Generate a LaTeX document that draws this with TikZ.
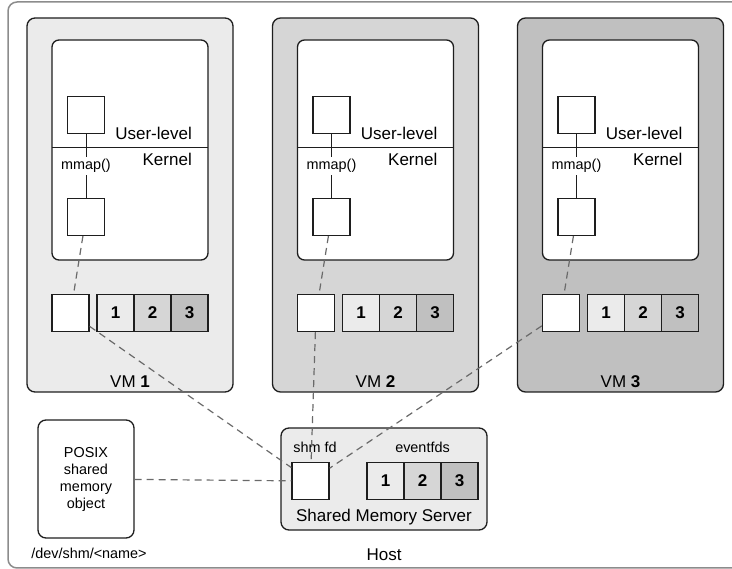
\documentclass[tikz,border=0pt]{standalone}
\usepackage{fontspec}
\setmainfont{Liberation Sans}
\usetikzlibrary{positioning}

\definecolor{hellgrau}{HTML}{EBEBEB}
\definecolor{mittelgrau}{HTML}{D6D6D6}
\definecolor{dunkelgrau}{HTML}{C0C0C0}
\definecolor{rahmen}{HTML}{1E1E1E}
\definecolor{hostrand}{HTML}{8C8C8C}
\definecolor{strich}{HTML}{6A6A6A}

\newcommand{\gross}{\fontsize{17}{20}\selectfont}
\newcommand{\klein}{\fontsize{14.4}{17}\selectfont}

\tikzset{
  vmbox/.style={draw=rahmen, line width=1.3pt, rounded corners=8pt, minimum width=206pt, minimum height=374pt},
  innerbox/.style={draw=rahmen, fill=white, line width=1.3pt, rounded corners=7pt, minimum width=156pt, minimum height=220pt},
  kasten/.style={draw=rahmen, fill=white, line width=1.3pt, minimum size=37pt, inner sep=0pt},
  zelle/.style={draw=rahmen, line width=1.3pt, minimum size=37pt, inner sep=0pt, font=\gross\bfseries},
  linie/.style={draw=rahmen, line width=1pt},
  gestrichelt/.style={draw=strich, line width=1.2pt, dash pattern=on 7pt off 5pt},
  beschrift/.style={font=\gross, inner sep=0pt}
}

\begin{document}
\begin{tikzpicture}[x=1pt, y=-1pt, node distance=37pt]
\useasboundingbox (0,0) rectangle (732,569);
\clip (0,0) rectangle (732,569);

% Host
\draw[draw=hostrand, line width=1.5pt, rounded corners=9pt] (8,2) rectangle (760,568);

% VM 1
\node[vmbox, fill=hellgrau] (vm1) at (130,205) {};
\node[innerbox] (inner1) at (130,150) {};
\draw[linie] (52,148) -- (208,148);
\node[kasten] (user1) at (86,115) {};
\node[kasten] (kern1) at (86,217) {};
\node[beschrift, anchor=east] (ul1) at (192,133) {User-level};
\node[beschrift, anchor=east] (kl1) at (192,159) {Kernel};
\node[kasten] (fd1) at (70.5,313) {};
\node[zelle, fill=hellgrau] (ev11) at (115.5,313) {1};
\node[zelle, fill=mittelgrau, right of=ev11] (ev12) {2};
\node[zelle, fill=dunkelgrau, right of=ev12] (ev13) {3};
\node[beschrift] (lab1) at (130,382) {VM \textbf{1}};

% VM 2
\node[vmbox, fill=mittelgrau] (vm2) at (375.5,205) {};
\node[innerbox] (inner2) at (375.5,150) {};
\draw[linie] (297.5,148) -- (453.5,148);
\node[kasten] (user2) at (331.5,115) {};
\node[kasten] (kern2) at (331.5,217) {};
\node[beschrift, anchor=east] (ul2) at (437.5,133) {User-level};
\node[beschrift, anchor=east] (kl2) at (437.5,159) {Kernel};
\node[kasten] (fd2) at (316,313) {};
\node[zelle, fill=hellgrau] (ev21) at (361,313) {1};
\node[zelle, fill=mittelgrau, right of=ev21] (ev22) {2};
\node[zelle, fill=dunkelgrau, right of=ev22] (ev23) {3};
\node[beschrift] (lab2) at (375.5,382) {VM \textbf{2}};

% VM 3
\node[vmbox, fill=dunkelgrau] (vm3) at (620.5,205) {};
\node[innerbox] (inner3) at (620.5,150) {};
\draw[linie] (542.5,148) -- (698.5,148);
\node[kasten] (user3) at (576.5,115) {};
\node[kasten] (kern3) at (576.5,217) {};
\node[beschrift, anchor=east] (ul3) at (682.5,133) {User-level};
\node[beschrift, anchor=east] (kl3) at (682.5,159) {Kernel};
\node[kasten] (fd3) at (561,313) {};
\node[zelle, fill=hellgrau] (ev31) at (606,313) {1};
\node[zelle, fill=mittelgrau, right of=ev31] (ev32) {2};
\node[zelle, fill=dunkelgrau, right of=ev32] (ev33) {3};
\node[beschrift] (lab3) at (620.5,382) {VM \textbf{3}};

% Server und POSIX-Objekt
\node[vmbox, fill=hellgrau, minimum height=102pt] (server) at (384,479) {};
\node[kasten] (shm) at (310.5,481) {};
\node[zelle, fill=hellgrau] (ev1) at (385.5,481) {1};
\node[zelle, fill=mittelgrau, right of=ev1] (ev2) {2};
\node[zelle, fill=dunkelgrau, right of=ev2] (ev3) {3};
\node[beschrift, font=\klein] (shmlab) at (315,447) {shm fd};
\node[beschrift, font=\klein] (evlab) at (422.5,447) {eventfds};
\node[beschrift] (srvlab) at (384,517) {Shared Memory Server};
\node[draw=rahmen, line width=1.3pt, rounded corners=8pt, minimum width=96pt, minimum height=118pt, align=center, font=\klein] (posix) at (86,479) {POSIX\\shared\\memory\\object};
\node[beschrift, font=\klein] (devlab) at (89,553) {/dev/shm/<name>};
\node[beschrift] (hostlab) at (384,555) {Host};

% Verbindungen
\draw[linie] (user1) -- node[fill=white, inner sep=2pt, font=\klein] (mm1) {mmap()} (kern1);
\draw[linie] (user2) -- node[fill=white, inner sep=2pt, font=\klein] (mm2) {mmap()} (kern2);
\draw[linie] (user3) -- node[fill=white, inner sep=2pt, font=\klein] (mm3) {mmap()} (kern3);
\draw[gestrichelt] (kern1) -- (fd1);
\draw[gestrichelt] (kern2) -- (fd2);
\draw[gestrichelt] (kern3) -- (fd3);
\draw[gestrichelt] (fd1) -- (shm);
\draw[gestrichelt] (fd2) -- (shm);
\draw[gestrichelt] (fd3) -- (shm);
\draw[gestrichelt] (posix) -- (shm);

\end{tikzpicture}
\end{document}
